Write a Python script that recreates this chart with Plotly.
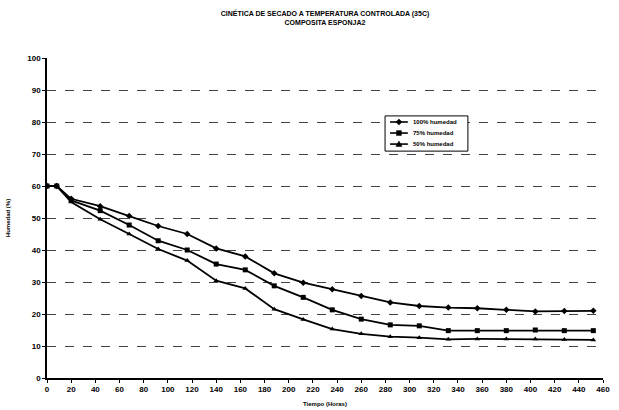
import plotly.graph_objects as go

# Drying time (hours) and moisture content (%) for each sample
tiempo = [0, 8, 20, 44, 68, 92, 116, 140, 164, 188, 212, 236, 260, 284, 308, 332, 356, 380, 404, 428, 452]
humedad_100 = [60, 60, 56, 53.7, 50.6, 47.5, 45, 40.5, 38, 32.7, 29.8, 27.7, 25.6, 23.6, 22.5, 22, 21.8, 21.3, 20.8, 20.9, 21]
humedad_75 = [60, 60, 55.5, 52.3, 47.8, 42.9, 40, 35.6, 33.8, 28.8, 25.2, 21.3, 18.4, 16.6, 16.3, 14.8, 14.8, 14.8, 15, 14.8, 14.8]
humedad_50 = [60, 60, 55, 49.6, 45, 40.3, 36.7, 30.4, 28, 21.5, 18.3, 15.3, 13.8, 12.9, 12.6, 12.1, 12.2, 12.2, 12.2, 12, 11.9]

series = [
    ("100% humedad", humedad_100, "diamond"),
    ("75% humedad", humedad_75, "square"),
    ("50% humedad", humedad_50, "triangle-up"),
]

x_ticks = list(range(0, 461, 20))
y_ticks = list(range(0, 101, 10))

FONT = "Liberation Sans, Arial, sans-serif"

fig = go.Figure()
for nombre, valores, simbolo in series:
    fig.add_trace(go.Scatter(
        x=tiempo, y=valores, name=nombre, mode="lines+markers",
        line=dict(color="black", width=1.8),
        marker=dict(symbol=simbolo, size=5, color="black"),
        showlegend=False,
    ))

# Compact boxed legend drawn in paper coordinates
leg_x0, leg_x1, leg_top, leg_bottom = 0.608, 0.757, 0.819, 0.709
row_step = 0.0345
shapes = [dict(type="rect", xref="paper", yref="paper",
               x0=leg_x0, x1=leg_x1, y0=leg_bottom, y1=leg_top,
               line=dict(color="black", width=1), fillcolor="white", layer="above")]
annotations = []
mk_w, mk_h = 0.0055, 0.0095
for i, (nombre, _, simbolo) in enumerate(series):
    yy = leg_top - 0.019 - i * row_step
    shapes.append(dict(type="line", xref="paper", yref="paper",
                       x0=0.617, x1=0.649, y0=yy, y1=yy,
                       line=dict(color="black", width=1.6), layer="above"))
    cx = 0.633
    if simbolo == "diamond":
        path = f"M {cx-mk_w},{yy} L {cx},{yy+mk_h} L {cx+mk_w},{yy} L {cx},{yy-mk_h} Z"
    elif simbolo == "square":
        path = (f"M {cx-mk_w*0.8},{yy-mk_h*0.8} L {cx+mk_w*0.8},{yy-mk_h*0.8} "
                f"L {cx+mk_w*0.8},{yy+mk_h*0.8} L {cx-mk_w*0.8},{yy+mk_h*0.8} Z")
    else:
        path = f"M {cx-mk_w},{yy-mk_h*0.8} L {cx+mk_w},{yy-mk_h*0.8} L {cx},{yy+mk_h} Z"
    shapes.append(dict(type="path", xref="paper", yref="paper", path=path,
                       fillcolor="black", line=dict(color="black", width=0.5), layer="above"))
    annotations.append(dict(xref="paper", yref="paper", x=0.654, y=yy,
                            xanchor="left", yanchor="middle", showarrow=False,
                            text=f"<b>{nombre}</b>",
                            font=dict(family=FONT, size=6, color="black")))

fig.update_layout(
    width=619, height=410,
    margin=dict(l=47, r=16, t=58, b=32),
    paper_bgcolor="white", plot_bgcolor="white",
    font=dict(family=FONT, size=7, color="black"),
    title=dict(
        text="<b>CINÉTICA DE SECADO A TEMPERATURA CONTROLADA (35C)<br>COMPOSITA ESPONJA2</b>",
        x=0.5, xref="paper", y=0.962, yanchor="top",
        font=dict(family=FONT, size=7, color="black"),
    ),
    shapes=shapes,
    annotations=annotations,
)

fig.update_xaxes(
    range=[0, 460], tickvals=x_ticks, ticktext=[f"<b>{v}</b>" for v in x_ticks],
    showline=True, linecolor="black", linewidth=1.5,
    ticks="outside", ticklen=3, tickcolor="black",
    showgrid=False, zeroline=False, automargin=False,
    title=dict(text="<b>Tiempo (Horas)</b>", font=dict(size=6), standoff=8),
    tickfont=dict(size=8),
)
fig.update_yaxes(
    range=[0, 100], tickvals=y_ticks, ticktext=[f"<b>{v}</b>" for v in y_ticks],
    showline=True, linecolor="black", linewidth=1.5,
    ticks="outside", ticklen=3, tickcolor="black",
    showgrid=True, gridcolor="#444", griddash="dash", gridwidth=1,
    zeroline=False, automargin=False,
    title=dict(text="<b>Humedad (%)</b>", font=dict(size=6), standoff=16),
    tickfont=dict(size=8),
)

fig.write_html("out.html")
